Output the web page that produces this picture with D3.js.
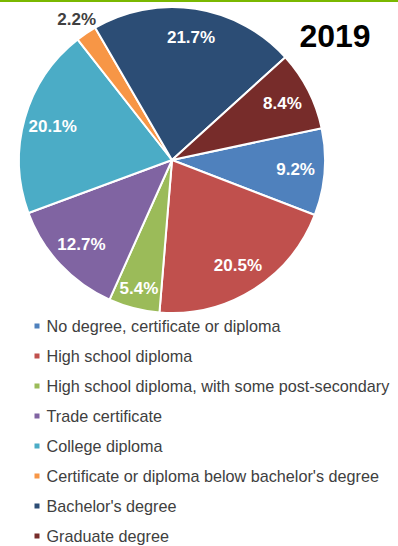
<!DOCTYPE html>
<html>
<head>
<meta charset="utf-8">
<script src="https://cdn.jsdelivr.net/npm/d3@7"></script>
<style>
  body { margin: 0; background: #fff; }
  svg { display: block; font-family: "Liberation Sans", Arial, sans-serif; }
</style>
</head>
<body>
<script>
const categories = [
    "No degree, certificate or diploma",
    "High school diploma",
    "High school diploma, with some post-secondary",
    "Trade certificate",
    "College diploma",
    "Certificate or diploma below bachelor's degree",
    "Bachelor's degree",
    "Graduate degree"
];
const values = [9.2, 20.5, 5.4, 12.7, 20.1, 2.2, 21.7, 8.4];
const colors = ['#4f81bd', '#c0504d', '#9bbb59', '#8064a2', '#4bacc6', '#f79646', '#2c4d75', '#772c2a'];
const title = '2019';

const width = 398, height = 546;
const cx = 172, cy = 160, radius = 153;

const svg = d3.select('body').append('svg')
    .attr('width', width)
    .attr('height', height);

// green rule along the top
svg.append('rect')
    .attr('x', 0).attr('y', 0)
    .attr('width', width).attr('height', 2)
    .attr('fill', '#7ab800');

const pie = d3.pie()
    .sort(null)
    .value(d => d)
    .startAngle(78 * Math.PI / 180)
    .endAngle(78 * Math.PI / 180 + Math.PI * 2);

const arcs = pie(values);
const arc = d3.arc().innerRadius(0).outerRadius(radius);

const g = svg.append('g').attr('transform', `translate(${cx},${cy})`);

g.selectAll('path.slice')
    .data(arcs)
    .enter()
    .append('path')
    .attr('class', 'slice')
    .attr('d', arc)
    .attr('fill', (d, i) => colors[i])
    .attr('stroke', '#fff')
    .attr('stroke-width', 2)
    .attr('stroke-linejoin', 'round');

// labels: inside for most, outside for the tiny slice
const labelRadius = d => d.data < 3 ? 170 : d.data < 6 ? 133 : 124;
const labelArc = d => d3.arc().innerRadius(labelRadius(d)).outerRadius(labelRadius(d)).centroid(d);

g.selectAll('text.label')
    .data(arcs)
    .enter()
    .append('text')
    .attr('class', 'label')
    .attr('transform', d => `translate(${labelArc(d)})`)
    .attr('text-anchor', 'middle')
    .attr('dominant-baseline', 'central')
    .style('font-size', '17px')
    .style('font-weight', 'bold')
    .attr('fill', d => d.data < 3 ? '#404040' : '#fff')
    .text(d => d3.format('.1f')(d.data) + '%');

svg.append('text')
    .attr('x', 335)
    .attr('y', 47)
    .attr('text-anchor', 'middle')
    .style('font-size', '32px')
    .style('font-weight', 'bold')
    .attr('fill', '#000')
    .text(title);

// legend
const legend = svg.append('g').attr('transform', 'translate(0,326)');
const rows = legend.selectAll('g.row')
    .data(categories)
    .enter()
    .append('g')
    .attr('class', 'row')
    .attr('transform', (d, i) => `translate(0,${i * 30})`);

rows.append('rect')
    .attr('x', 34.5).attr('y', -2.5)
    .attr('width', 5).attr('height', 5)
    .attr('fill', (d, i) => colors[i]);

rows.append('text')
    .attr('x', 46.5)
    .attr('dominant-baseline', 'central')
    .style('font-size', '16.2px')
    .attr('fill', '#404040')
    .text(d => d);
</script>
</body>
</html>
